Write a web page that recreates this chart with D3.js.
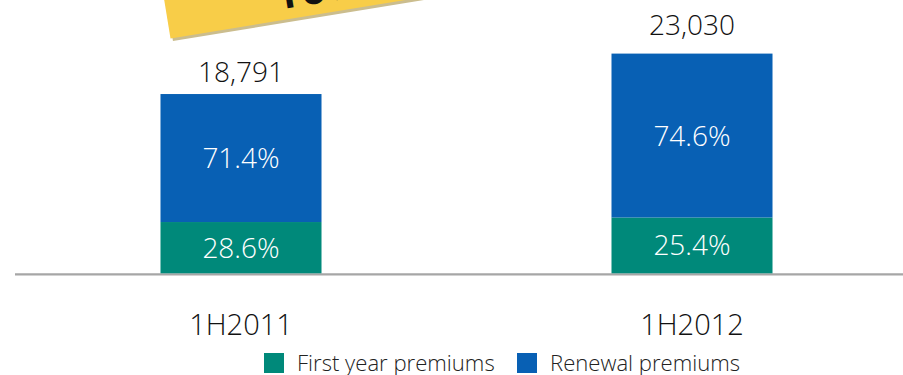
<!DOCTYPE html>
<html>
<head>
<meta charset="utf-8">
<script src="https://cdn.jsdelivr.net/npm/d3@7"></script>
<style>
  html, body { margin: 0; padding: 0; background: #fff; }
  svg { display: block; }
  text { font-family: "Open Sans", "Noto Sans", sans-serif; }
  .thin { font-weight: 350; }
</style>
</head>
<body>
<svg id="chart" width="903" height="375"></svg>
<script>
// Premium mix by half-year
const categories = ["1H2011", "1H2012"];
const totals = [18791, 23030];
const firstYearShare = [28.6, 25.4];
const renewalShare = [71.4, 74.6];
const seriesNames = ["First year premiums", "Renewal premiums"];
const growthLabel = "YoY +22.6%";

const colors = { first: "#00897a", renewal: "#0860b4" };
const totalLabelGap = [12, 19];

const svg = d3.select("#chart");
const W = 903, H = 375;

const x = d3.scaleBand()
  .domain(categories)
  .range([15, 918])
  .paddingInner(0.643)
  .paddingOuter(0.3226);

const y = d3.scaleLinear()
  .domain([0, 25000])
  .range([273.3, 34.8]);

// Stacked rows: first year at the bottom, renewal on top
const rows = categories.map((c, i) => ({
  cat: c,
  total: totals[i],
  first: totals[i] * firstYearShare[i] / 100,
  renewal: totals[i] * renewalShare[i] / 100,
  firstPct: firstYearShare[i],
  renewalPct: renewalShare[i],
  gap: totalLabelGap[i]
}));

const stack = d3.stack().keys(["first", "renewal"]);
const layers = stack(rows);

// Growth banner, tilted, running off the top edge
const banner = svg.append("g")
  .attr("transform", "translate(171.5,38.3) rotate(-9.3)");
banner.append("rect")
  .attr("x", 1).attr("y", -90).attr("width", 420).attr("height", 93)
  .attr("fill", "#cbbd8e");
banner.append("rect")
  .attr("x", -1).attr("y", -90).attr("width", 420).attr("height", 90)
  .attr("fill", "#f8cd48");
banner.append("text")
  .attr("x", 110).attr("y", -11)
  .attr("font-size", 40)
  .attr("font-weight", 700)
  .attr("fill", "#111")
  .text(growthLabel);

// Baseline
svg.append("line")
  .attr("x1", 15).attr("x2", W)
  .attr("y1", y(0) + 1).attr("y2", y(0) + 1)
  .attr("stroke", "#a6a6a6")
  .attr("stroke-width", 2.2);

// Bars
svg.append("g").selectAll("g")
  .data(layers)
  .join("g")
  .attr("fill", d => colors[d.key])
  .selectAll("rect")
  .data(d => d)
  .join("rect")
  .attr("x", d => x(d.data.cat))
  .attr("width", x.bandwidth())
  .attr("y", d => y(d[1]))
  .attr("height", d => y(d[0]) - y(d[1]));

// Segment percentages
layers.forEach(layer => {
  svg.append("g").selectAll("text")
    .data(layer)
    .join("text")
    .attr("class", "thin")
    .attr("x", d => x(d.data.cat) + x.bandwidth() / 2)
    .attr("y", d => (y(d[0]) + y(d[1])) / 2)
    .attr("dy", "0.36em")
    .attr("text-anchor", "middle")
    .attr("font-size", 28)
    .attr("fill", "#fff")
    .text(d => (layer.key === "first" ? d.data.firstPct : d.data.renewalPct).toFixed(1) + "%");
});

// Totals above bars
svg.append("g").selectAll("text")
  .data(rows)
  .join("text")
  .attr("class", "thin")
  .attr("x", d => x(d.cat) + x.bandwidth() / 2)
  .attr("y", d => y(d.total) - d.gap)
  .attr("text-anchor", "middle")
  .attr("font-size", 28)
  .attr("fill", "#111")
  .text(d => d3.format(",")(d.total));

// Category axis labels
const xAxis = d3.axisBottom(x).tickSize(0).tickPadding(0);
const axisG = svg.append("g")
  .attr("transform", `translate(0,${y(0)})`)
  .call(xAxis);
axisG.select(".domain").remove();
axisG.selectAll("text")
  .attr("class", "thin")
  .attr("y", 61.7)
  .attr("dy", 0)
  .attr("font-size", 29)
  .attr("font-family", "'Open Sans', sans-serif")
  .attr("fill", "#111");

// Legend
const legend = svg.append("g");
const legendItems = [
  { name: seriesNames[0], color: colors.first, x: 264 },
  { name: seriesNames[1], color: colors.renewal, x: 517 }
];
legendItems.forEach(it => {
  legend.append("rect")
    .attr("x", it.x).attr("y", 353)
    .attr("width", 20).attr("height", 20)
    .attr("fill", it.color);
  legend.append("text")
    .attr("class", "thin")
    .attr("x", it.x + 33).attr("y", 370.7)
    .attr("font-size", 22.1)
    .attr("fill", "#222")
    .text(it.name);
});
</script>
</body>
</html>
